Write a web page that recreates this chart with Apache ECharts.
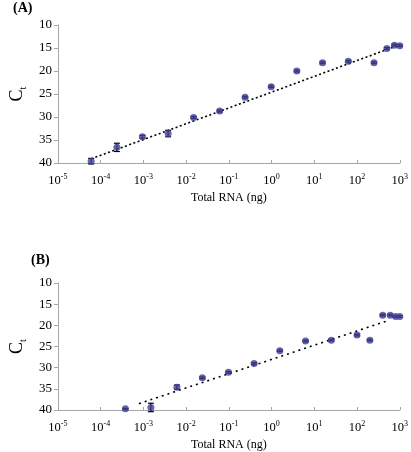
<!DOCTYPE html>
<html>
<head>
<meta charset="utf-8">
<script src="https://cdn.jsdelivr.net/npm/echarts@6/dist/echarts.min.js"></script>
<style>html,body{margin:0;padding:0;background:#fff}#c{width:411px;height:452px}</style>
</head>
<body>
<div id="c"></div>
<script>
// Panel A data
var rnaA = [0.00006, 0.00024, 0.00095, 0.0038, 0.015, 0.061, 0.24, 0.98, 3.9, 15.6, 62.5, 250, 500, 750, 1000];
var ctA  = [39.6, 36.6, 34.3, 33.6, 30.1, 28.7, 25.7, 23.4, 20.0, 18.2, 17.9, 18.2, 15.1, 14.4, 14.5];
var errA = [0.6, 0.9, 0.3, 0.7, 0.2, 0.2, 0.2, 0.2, 0.2, 0.2, 0.2, 0.2, 0.2, 0.2, 0.2];
var trendXA = [0.00006, 1000];
var trendYA = [39.1, 14.3];
// Panel B data
var rnaB = [0.00038, 0.0015, 0.0061, 0.024, 0.098, 0.39, 1.56, 6.25, 25, 100, 200, 400, 600, 800, 1000];
var ctB  = [39.7, 39.4, 34.6, 32.4, 31.1, 29.0, 26.0, 23.7, 23.5, 22.3, 23.5, 17.6, 17.6, 17.9, 17.9];
var errB = [0.1, 1.0, 0.5, 0.2, 0.2, 0.2, 0.2, 0.2, 0.2, 0.2, 0.2, 0.2, 0.2, 0.2, 0.2];
var trendXB = [0.00079, 525];
var trendYB = [38.5, 18.9];
// Axis ticks
var yTicks = [10, 15, 20, 25, 30, 35, 40];
var xMinExp = -5, xMaxExp = 3;

var FONT = '"Liberation Serif", "Times New Roman", serif';
var markerColor = '#40409a';
var axisColor = '#a6a6a6';

function zip(a, b, c) { return a.map(function (v, i) { return c ? [v, b[i], c[i]] : [v, b[i]]; }); }

function xAxisCfg(gi) {
  return {
    gridIndex: gi, type: 'log', logBase: 10,
    min: Math.pow(10, xMinExp), max: Math.pow(10, xMaxExp), interval: 1,
    axisLine: { lineStyle: { color: axisColor, width: 1 } },
    axisTick: { inside: true, length: 3, lineStyle: { color: axisColor } },
    splitLine: { show: false },
    axisLabel: {
      margin: 10, color: '#000', fontFamily: FONT, fontSize: 12,
      formatter: function (v) { return '{b|10}{s|' + Math.round(Math.log10(v)) + '}'; },
      rich: {
        b: { fontFamily: FONT, fontSize: 12.5, color: '#000', lineHeight: 14, verticalAlign: 'bottom' },
        s: { fontFamily: FONT, fontSize: 8, color: '#000', lineHeight: 14, verticalAlign: 'top', padding: [0, 0, 5, 0] }
      }
    },
    name: 'Total RNA (ng)', nameLocation: 'middle', nameGap: 29,
    nameTextStyle: { fontFamily: FONT, fontSize: 12, color: '#000' }
  };
}
function yAxisCfg(gi) {
  return {
    gridIndex: gi, type: 'value', inverse: true, min: yTicks[0], max: yTicks[yTicks.length - 1], interval: 5,
    axisLine: { show: true, lineStyle: { color: axisColor, width: 1 } },
    axisTick: { show: true, length: 4, lineStyle: { color: axisColor } },
    splitLine: { show: false },
    axisLabel: { margin: 6, color: '#000', fontFamily: FONT, fontSize: 13 },
    name: '{c|C}{t|t}', nameLocation: 'middle', nameRotate: 90, nameGap: 25,
    nameTextStyle: {
      rich: {
        c: { fontFamily: FONT, fontSize: 18, color: '#000', lineHeight: 20, verticalAlign: 'top' },
        t: { fontFamily: FONT, fontSize: 10, color: '#000', lineHeight: 20, verticalAlign: 'bottom', padding: [6, 0, 0, 0] }
      }
    }
  };
}

function errSeries(xi, data) {
  return {
    type: 'custom', xAxisIndex: xi, yAxisIndex: xi, data: data, z: 3, silent: true,
    renderItem: function (params, api) {
      var x = api.value(0), y = api.value(1), e = api.value(2);
      var p1 = api.coord([x, y - e]), p2 = api.coord([x, y + e]);
      var c = 3;
      var st = { stroke: '#000', lineWidth: 1.2 };
      return { type: 'group', children: [
        { type: 'line', shape: { x1: p1[0], y1: p1[1], x2: p2[0], y2: p2[1] }, style: st },
        { type: 'line', shape: { x1: p1[0] - c, y1: p1[1], x2: p1[0] + c, y2: p1[1] }, style: st },
        { type: 'line', shape: { x1: p2[0] - c, y1: p2[1], x2: p2[0] + c, y2: p2[1] }, style: st }
      ]};
    }
  };
}

var chart = echarts.init(document.getElementById('c'), null, { renderer: 'canvas' });
chart.setOption({
  animation: false,
  backgroundColor: '#fff',
  title: [
    { text: '(A)', left: 8, top: -4, textStyle: { fontFamily: FONT, fontSize: 14, fontWeight: 'bold', color: '#000' } },
    { text: '(B)', left: 26, top: 248, textStyle: { fontFamily: FONT, fontSize: 14, fontWeight: 'bold', color: '#000' } }
  ],
  grid: [
    { left: 34, right: 6, top: 25, height: 138 },
    { left: 41, right: 10, top: 283, height: 128 }
  ],
  xAxis: [xAxisCfg(0), xAxisCfg(1)],
  yAxis: [yAxisCfg(0), yAxisCfg(1)],
  series: [
    { type: 'line', xAxisIndex: 0, yAxisIndex: 0, data: zip(trendXA, trendYA), showSymbol: false, symbol: 'none',
      lineStyle: { color: '#000', width: 1.6, type: [2, 2.5] }, z: 2, silent: true },
    errSeries(0, zip(rnaA, ctA, errA)),
    { type: 'scatter', xAxisIndex: 0, yAxisIndex: 0, data: zip(rnaA, ctA), symbolSize: 7,
      itemStyle: { color: markerColor }, z: 4 },
    { type: 'line', xAxisIndex: 1, yAxisIndex: 1, data: zip(trendXB, trendYB), showSymbol: false, symbol: 'none',
      lineStyle: { color: '#000', width: 1.6, type: [2, 4] }, z: 2, silent: true },
    errSeries(1, zip(rnaB, ctB, errB)),
    { type: 'scatter', xAxisIndex: 1, yAxisIndex: 1, data: zip(rnaB, ctB), symbolSize: 7,
      itemStyle: { color: markerColor }, z: 4 }
  ]
});
</script>
</body>
</html>
